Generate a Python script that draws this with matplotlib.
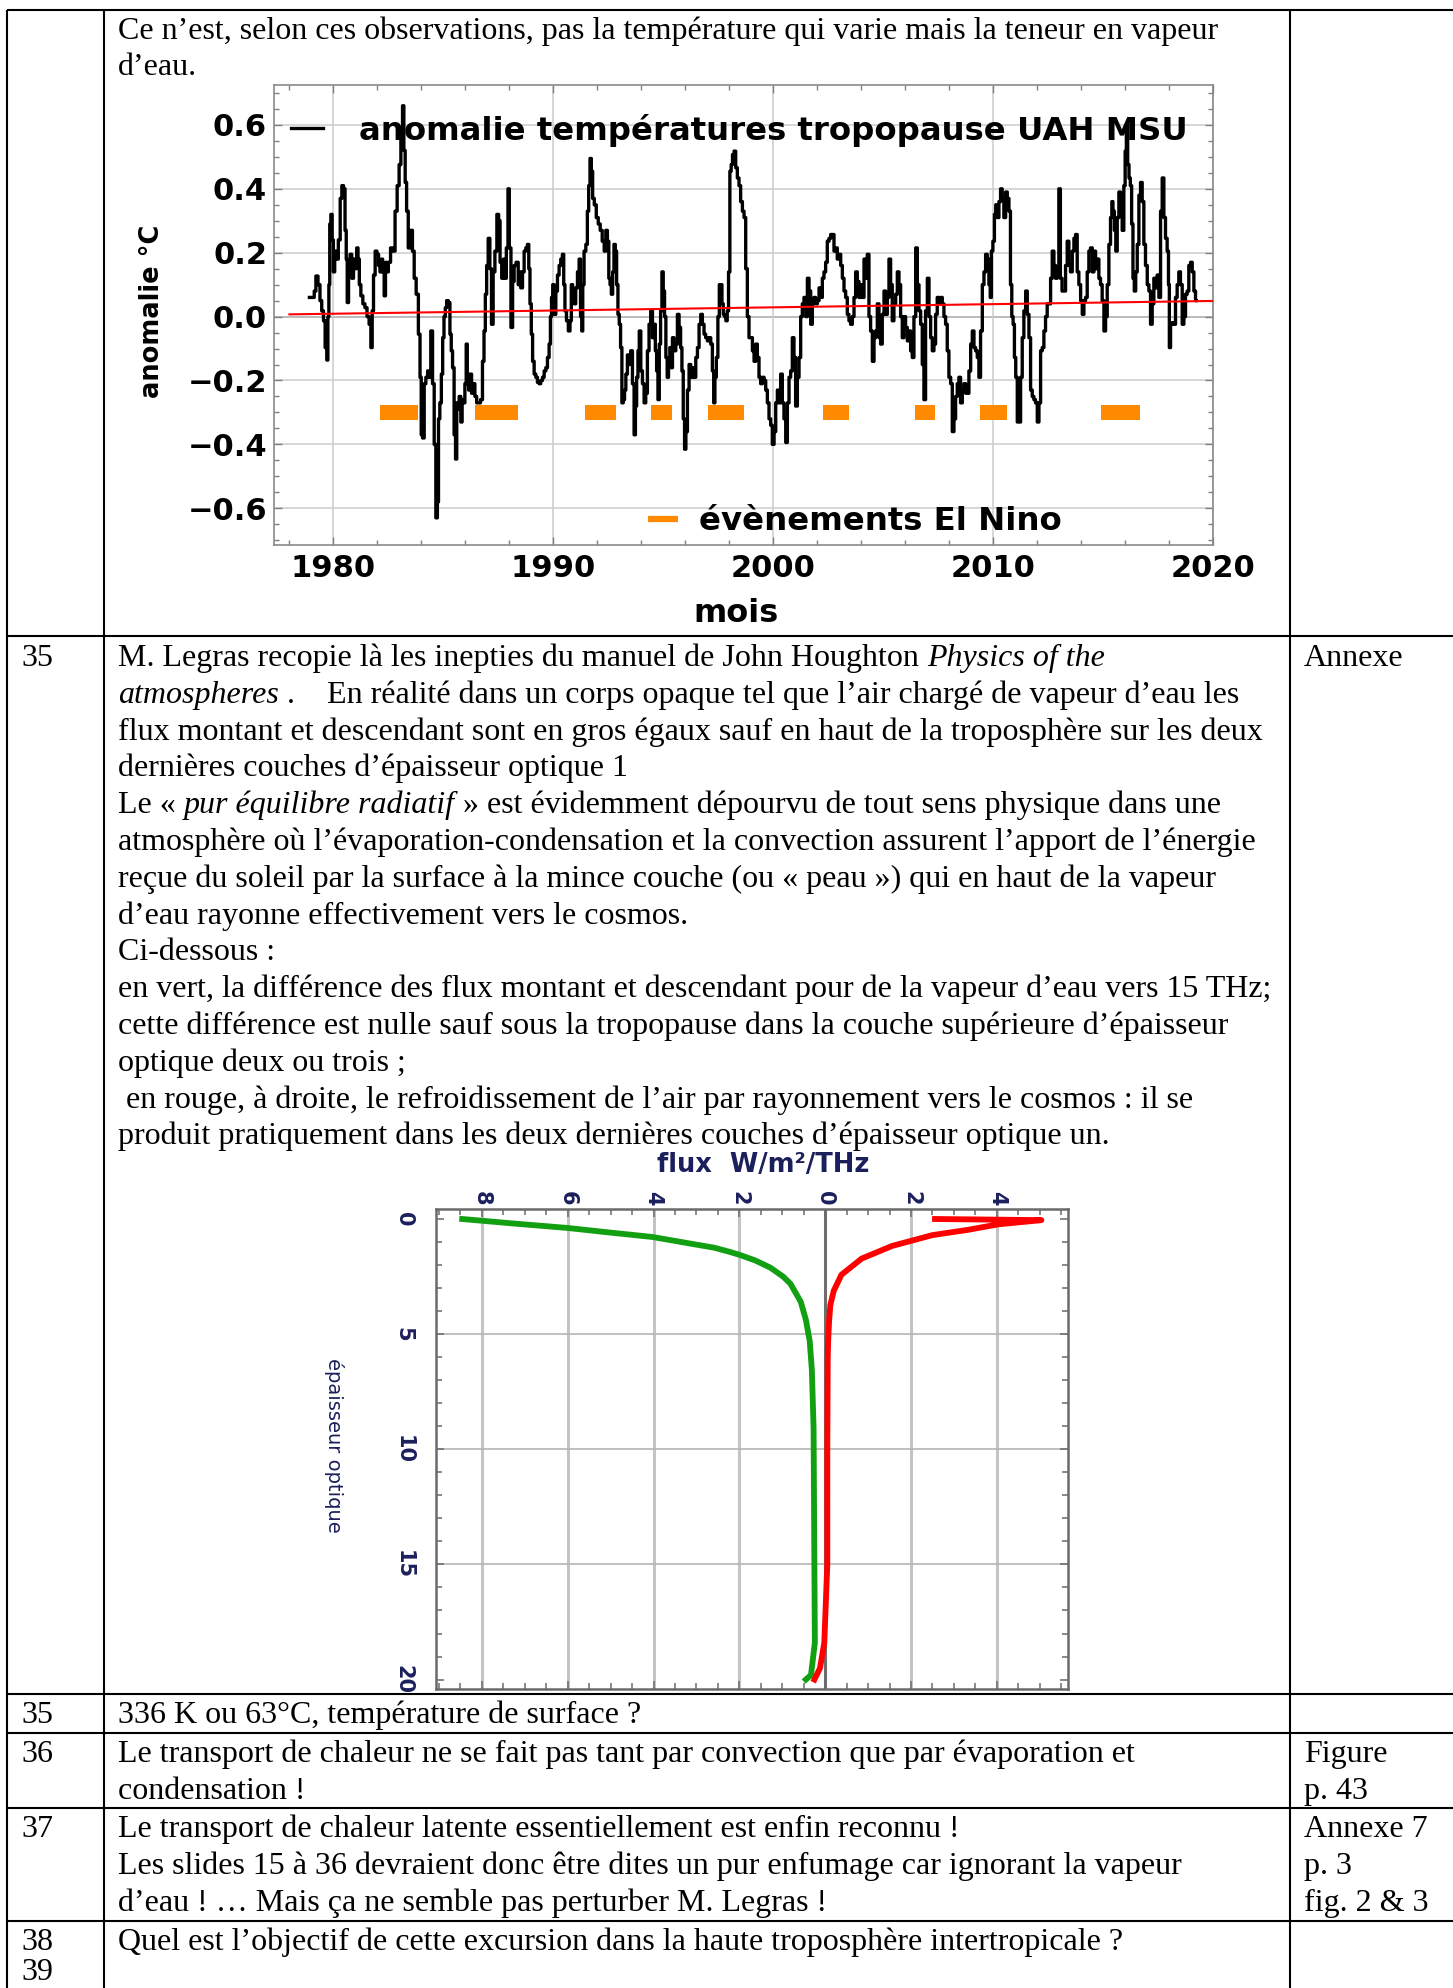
import matplotlib
matplotlib.use("Agg")
import numpy as np
import matplotlib.pyplot as plt

W, H = 1453, 1988

# ---------------- graphe 1 : anomalie tropopause UAH MSU
annees_a = [1978.91, 1979.09, 1979.17, 1979.24, 1979.36, 1979.42, 1979.52, 1979.58, 1979.67, 1979.73,
            1979.77, 1979.82, 1979.85, 1979.92, 1979.97, 1980.03, 1980.09, 1980.18, 1980.27, 1980.35,
            1980.42, 1980.50, 1980.56, 1980.61, 1980.65, 1980.73, 1980.79, 1980.88, 1980.95, 1981.03,
            1981.09, 1981.15, 1981.21, 1981.29, 1981.39, 1981.48, 1981.58, 1981.67, 1981.74, 1981.79,
            1981.86, 1981.94, 1982.02, 1982.09, 1982.15, 1982.21, 1982.27, 1982.35, 1982.39, 1982.45,
            1982.55, 1982.65, 1982.76, 1982.85, 1982.95, 1983.03, 1983.11, 1983.18, 1983.23, 1983.30,
            1983.36, 1983.45, 1983.55, 1983.64, 1983.71, 1983.82, 1983.91, 1983.97, 1984.02, 1984.09,
            1984.17, 1984.24, 1984.33, 1984.39, 1984.47, 1984.55, 1984.62, 1984.70, 1984.76, 1984.80,
            1984.88, 1984.94, 1985.00, 1985.06, 1985.12, 1985.18, 1985.27, 1985.33, 1985.39, 1985.45,
            1985.53, 1985.58, 1985.64, 1985.68, 1985.76, 1985.83, 1985.88, 1985.94, 1986.02, 1986.06,
            1986.12, 1986.18, 1986.24, 1986.33, 1986.39, 1986.48, 1986.55, 1986.64, 1986.74, 1986.82,
            1986.88, 1986.94, 1987.00, 1987.08, 1987.15, 1987.23, 1987.30, 1987.39, 1987.48, 1987.55,
            1987.61, 1987.70, 1987.76, 1987.82, 1987.91, 1987.97, 1988.03, 1988.12, 1988.18, 1988.26,
            1988.36, 1988.45]
anom_a = [0.06, 0.06, 0.08, 0.127, 0.10, 0.05, 0.018, -0.013, -0.097, -0.136,
          0.0, 0.10, 0.29, 0.32, 0.24, 0.14, 0.205, 0.18, 0.24, 0.37,
          0.41, 0.40, 0.27, 0.18, 0.044, 0.14, 0.195, 0.12, 0.18, 0.15,
          0.215, 0.18, 0.10, 0.065, 0.04, 0.028, 0.0, -0.024, -0.097, 0.018,
          0.13, 0.205, 0.195, 0.16, 0.14, 0.18, 0.14, 0.065, 0.17, 0.14,
          0.17, 0.215, 0.205, 0.33, 0.41, 0.476, 0.57, 0.66, 0.52, 0.42,
          0.33, 0.215, 0.27, 0.205, 0.12, 0.07, -0.055, -0.19, -0.37, -0.38,
          -0.21, -0.19, -0.17, -0.19, -0.045, -0.21, -0.40, -0.63, -0.58, -0.32,
          -0.27, -0.18, -0.066, 0.0, 0.028, 0.05, 0.044, -0.055, -0.107, -0.16,
          -0.37, -0.446, -0.27, -0.29, -0.25, -0.33, -0.26, -0.27, -0.21, -0.086,
          -0.21, -0.23, -0.18, -0.24, -0.21, -0.25, -0.27, -0.27, -0.26, -0.14,
          -0.045, 0.07, 0.16, 0.245, 0.15, -0.024, 0.14, 0.205, 0.32, 0.30,
          0.17, 0.12, 0.18, 0.12, 0.215, 0.40, 0.215, -0.034, 0.11, 0.16,
          0.17, 0.10]

annees_b = [1988.48, 1988.56, 1988.64, 1988.71, 1988.79, 1988.86, 1988.91, 1988.97, 1989.03, 1989.09,
            1989.17, 1989.24, 1989.32, 1989.39, 1989.47, 1989.55, 1989.62, 1989.70, 1989.77, 1989.85,
            1989.89, 1989.95, 1990.00, 1990.08, 1990.15, 1990.23, 1990.30, 1990.38, 1990.45, 1990.50,
            1990.56, 1990.64, 1990.73, 1990.79, 1990.85, 1990.91, 1990.98, 1991.06, 1991.14, 1991.21,
            1991.27, 1991.32, 1991.36, 1991.44, 1991.52, 1991.58, 1991.64, 1991.70, 1991.76, 1991.82,
            1991.91, 1992.00, 1992.09, 1992.18, 1992.27, 1992.36, 1992.42, 1992.50, 1992.55, 1992.61,
            1992.67, 1992.73, 1992.79, 1992.85, 1992.91, 1992.97, 1993.03, 1993.09, 1993.15, 1993.21,
            1993.27, 1993.33, 1993.41, 1993.48, 1993.56, 1993.64, 1993.71, 1993.76, 1993.82, 1993.88,
            1993.94, 1994.02, 1994.09, 1994.17, 1994.24, 1994.32, 1994.39, 1994.47, 1994.55, 1994.61,
            1994.67, 1994.73, 1994.79, 1994.85, 1994.91, 1994.97, 1995.03, 1995.09, 1995.15, 1995.21,
            1995.27, 1995.33, 1995.39, 1995.45, 1995.53, 1995.61, 1995.68, 1995.76, 1995.82, 1995.88,
            1995.94, 1996.00, 1996.06, 1996.14, 1996.21, 1996.29, 1996.36, 1996.44, 1996.52, 1996.59,
            1996.67, 1996.74, 1996.82, 1996.89, 1996.97, 1997.05, 1997.12, 1997.20, 1997.27, 1997.32,
            1997.38, 1997.45, 1997.52, 1997.58, 1997.64, 1997.70, 1997.76, 1997.82, 1997.88, 1997.94,
            1998.00, 1998.06, 1998.12, 1998.18, 1998.26, 1998.33, 1998.41, 1998.48, 1998.56, 1998.64,
            1998.71, 1998.79, 1998.86, 1998.94]
anom_b = [0.14, 0.09, 0.14, 0.205, 0.215, 0.226, 0.15, 0.04, -0.055, -0.14,
          -0.18, -0.19, -0.206, -0.21, -0.20, -0.19, -0.17, -0.16, -0.128, -0.086,
          0.0, 0.06, 0.10, 0.007, 0.08, 0.13, 0.16, 0.18, 0.195, 0.10,
          0.018, -0.013, -0.045, -0.013, 0.10, 0.08, 0.04, 0.09, 0.14, 0.18,
          0.0, -0.045, 0.10, 0.205, 0.226, 0.33, 0.41, 0.495, 0.455, 0.37,
          0.35, 0.31, 0.29, 0.27, 0.236, 0.205, 0.27, 0.236, 0.12, 0.10,
          0.07, 0.14, 0.226, 0.205, 0.10, 0.007, -0.024, -0.097, -0.27, -0.26,
          -0.23, -0.18, -0.12, -0.15, -0.107, -0.21, -0.37, -0.28, -0.19, -0.107,
          -0.045, -0.17, -0.21, -0.27, -0.24, -0.107, -0.024, 0.018, -0.066, -0.024,
          -0.107, -0.17, -0.26, -0.086, 0.018, 0.14, 0.08, 0.0, -0.128, -0.19,
          -0.14, -0.097, -0.16, -0.066, -0.107, -0.086, 0.007, -0.034, -0.097, -0.17,
          -0.32, -0.415, -0.36, -0.23, -0.15, -0.19, -0.16, -0.19, -0.128, -0.097,
          -0.024, 0.007, -0.024, -0.055, -0.066, -0.076, -0.066, -0.086, -0.17, -0.27,
          -0.19, -0.128, 0.0, 0.10, 0.10, 0.04, 0.007, 0.0, -0.013, 0.018,
          0.14, 0.455, 0.476, 0.507, 0.518, 0.466, 0.434, 0.41, 0.36, 0.33,
          0.31, 0.15, 0.0, -0.066]

annees_c = [1999.02, 1999.09, 1999.17, 1999.24, 1999.32, 1999.39, 1999.47, 1999.55, 1999.62, 1999.70,
            1999.77, 1999.85, 1999.92, 2000.00, 2000.08, 2000.15, 2000.23, 2000.30, 2000.38, 2000.45,
            2000.53, 2000.61, 2000.68, 2000.76, 2000.83, 2000.91, 2000.98, 2001.06, 2001.14, 2001.21,
            2001.29, 2001.36, 2001.44, 2001.52, 2001.59, 2001.67, 2001.74, 2001.82, 2001.89, 2001.97,
            2002.05, 2002.12, 2002.20, 2002.27, 2002.35, 2002.42, 2002.50, 2002.58, 2002.65, 2002.73,
            2002.80, 2002.88, 2002.95, 2003.03, 2003.11, 2003.18, 2003.26, 2003.33, 2003.41, 2003.48,
            2003.56, 2003.64, 2003.71, 2003.79, 2003.86, 2003.94, 2004.02, 2004.09, 2004.17, 2004.24,
            2004.32, 2004.39, 2004.47, 2004.55, 2004.62, 2004.70, 2004.77, 2004.85, 2004.92, 2005.00,
            2005.08, 2005.15, 2005.23, 2005.30, 2005.38, 2005.45, 2005.53, 2005.61, 2005.68, 2005.76,
            2005.83, 2005.91, 2005.98, 2006.06, 2006.14, 2006.21, 2006.29, 2006.36, 2006.44, 2006.52,
            2006.59, 2006.67, 2006.74, 2006.82, 2006.89, 2006.97, 2007.05, 2007.12, 2007.20, 2007.27,
            2007.35, 2007.42, 2007.50, 2007.58, 2007.65, 2007.73, 2007.80, 2007.88, 2007.95, 2008.03,
            2008.11, 2008.18, 2008.26, 2008.33, 2008.41, 2008.48, 2008.56, 2008.64, 2008.71, 2008.79,
            2008.86, 2008.94, 2009.02, 2009.09, 2009.17, 2009.24, 2009.32, 2009.39]
anom_c = [-0.066, -0.107, -0.14, -0.086, -0.128, -0.19, -0.21, -0.19, -0.20, -0.23,
          -0.27, -0.32, -0.34, -0.40, -0.36, -0.27, -0.23, -0.27, -0.18, -0.27,
          -0.32, -0.394, -0.27, -0.19, -0.17, -0.066, -0.128, -0.28, -0.19, -0.128,
          0.0, 0.04, 0.06, 0.0, 0.12, 0.08, -0.024, 0.04, 0.06, 0.04,
          0.05, 0.09, 0.06, 0.12, 0.14, 0.17, 0.236, 0.245, 0.257, 0.257,
          0.205, 0.215, 0.18, 0.195, 0.16, 0.12, 0.08, 0.06, 0.007, -0.013,
          -0.024, 0.0, 0.06, 0.14, 0.11, 0.06, 0.10, 0.06, 0.18, 0.12,
          0.195, 0.0, -0.045, -0.14, -0.066, -0.045, 0.04, -0.066, -0.086, 0.007,
          0.08, 0.007, 0.06, 0.18, 0.10, -0.013, 0.04, 0.07, 0.14, 0.10,
          0.0, -0.066, 0.0, -0.034, -0.076, -0.045, -0.107, -0.128, 0.0, 0.215,
          0.10, 0.018, -0.024, -0.15, -0.26, 0.018, 0.12, 0.0, -0.066, -0.107,
          -0.086, 0.007, 0.06, 0.04, 0.06, 0.04, 0.0, -0.024, -0.107, -0.19,
          -0.21, -0.36, -0.32, -0.25, -0.21, -0.19, -0.27, -0.23, -0.21, -0.24,
          -0.24, -0.17, -0.086, -0.045, -0.097, -0.107, -0.128, -0.19]

annees_d = [2009.47, 2009.55, 2009.62, 2009.70, 2009.77, 2009.85, 2009.89, 2009.95, 2010.03, 2010.09,
            2010.15, 2010.23, 2010.30, 2010.38, 2010.45, 2010.53, 2010.61, 2010.68, 2010.76, 2010.82,
            2010.88, 2010.94, 2011.00, 2011.06, 2011.14, 2011.21, 2011.29, 2011.36, 2011.44, 2011.52,
            2011.59, 2011.67, 2011.74, 2011.82, 2011.89, 2011.97, 2012.05, 2012.12, 2012.20, 2012.27,
            2012.35, 2012.42, 2012.50, 2012.58, 2012.65, 2012.73, 2012.80, 2012.88, 2012.95, 2013.03,
            2013.09, 2013.18, 2013.26, 2013.33, 2013.41, 2013.48, 2013.56, 2013.64, 2013.71, 2013.79,
            2013.86, 2013.94, 2014.02, 2014.09, 2014.17, 2014.24, 2014.32, 2014.39, 2014.47, 2014.55,
            2014.62, 2014.70, 2014.77, 2014.85, 2014.92, 2015.00, 2015.08, 2015.15, 2015.23, 2015.30,
            2015.38, 2015.42, 2015.48, 2015.55, 2015.61, 2015.68, 2015.76, 2015.83, 2015.91, 2015.98,
            2016.03, 2016.09, 2016.15, 2016.21, 2016.27, 2016.33, 2016.39, 2016.45, 2016.52, 2016.59,
            2016.67, 2016.74, 2016.82, 2016.89, 2016.97, 2017.05, 2017.12, 2017.20, 2017.27, 2017.35,
            2017.42, 2017.50, 2017.58, 2017.65, 2017.73, 2017.80, 2017.88, 2017.95, 2018.00, 2018.03,
            2018.11, 2018.18, 2018.26, 2018.33, 2018.41, 2018.48, 2018.56, 2018.64, 2018.71, 2018.79,
            2018.86, 2018.94, 2019.02, 2019.09, 2019.17, 2019.24]
anom_d = [-0.045, 0.10, 0.14, 0.195, 0.18, 0.10, 0.06, 0.205, 0.236, 0.32,
          0.35, 0.31, 0.36, 0.40, 0.37, 0.31, 0.39, 0.37, 0.33, 0.10,
          0.0, -0.024, -0.128, -0.19, -0.33, -0.33, -0.19, -0.066, 0.018, 0.08,
          0.007, -0.066, -0.23, -0.25, -0.26, -0.27, -0.33, -0.27, -0.107, -0.097,
          -0.045, 0.0, 0.04, 0.04, 0.12, 0.205, 0.16, 0.12, 0.14, 0.40,
          0.12, 0.08, 0.08, 0.16, 0.236, 0.16, 0.14, 0.205, 0.245, 0.257,
          0.14, 0.10, 0.05, 0.007, 0.05, 0.06, 0.14, 0.205, 0.215, 0.14,
          0.205, 0.15, 0.18, 0.12, 0.10, 0.05, -0.045, 0.0, 0.10, 0.226,
          0.31, 0.36, 0.33, 0.27, 0.205, 0.31, 0.39, 0.37, 0.27, 0.41,
          0.518, 0.60, 0.476, 0.434, 0.41, 0.29, 0.12, 0.08, 0.14, 0.226,
          0.38, 0.42, 0.36, 0.226, 0.16, 0.10, 0.08, -0.024, 0.04, 0.12,
          0.09, 0.13, 0.06, 0.33, 0.434, 0.31, 0.245, 0.205, 0.10, -0.097,
          -0.024, -0.019, -0.024, 0.06, 0.10, 0.14, 0.10, -0.024, 0.0, 0.07,
          0.08, 0.16, 0.17, 0.14, 0.08, 0.05]

tendance_annees = [1978.0, 2020.0]
tendance_vals = [0.007, 0.049]

nino_debut = [1982.1, 1986.45, 1991.45, 1994.45, 1997.05, 2002.25, 2006.45, 2009.4, 2014.9]
nino_fin = [1983.85, 1988.4, 1992.85, 1995.4, 1998.65, 2003.45, 2007.35, 2010.65, 2016.7]
nino_niveau = -0.3

ticks_x1 = [1980, 1990, 2000, 2010, 2020]
ticks_y1 = [-0.6, -0.4, -0.2, 0.0, 0.2, 0.4, 0.6]

# ---------------- graphe 2 : flux vs épaisseur optique
epaisseur_vert = [0.0, 0.19, 0.39, 0.58, 0.78, 1.25, 1.43, 1.56, 1.80, 2.11, 2.50, 2.81, 3.20, 3.59,
                  4.37, 5.30, 6.55, 9.05, 15.3, 18.4, 19.8, 20.0]
flux_vert = [-8.46, -7.30, -6.00, -5.06, -4.03, -2.58, -2.22, -1.99, -1.63, -1.28, -0.98, -0.81, -0.69,
             -0.57, -0.45, -0.36, -0.31, -0.27, -0.25, -0.24, -0.33, -0.45]
epaisseur_rouge = [20.0, 19.5, 18.4, 15.0, 10.0, 6.0, 5.3, 4.5, 3.74, 3.12, 2.42, 1.72, 1.17, 0.70,
                   0.47, 0.23, 0.05, 0.0]
flux_rouge = [-0.25, -0.12, -0.02, 0.05, 0.05, 0.06, 0.07, 0.09, 0.12, 0.2, 0.38, 0.85, 1.56, 2.5,
              3.33, 4.04, 5.04, 2.56]
ticks_x2 = [-8, -6, -4, -2, 0, 2, 4]
ticks_y2 = [0, 5, 10, 15, 20]

# ---------------- texte du tableau
SERIF = "Liberation Serif"
TAILLE = 23
INTER = 36.8
N, I = "normal", "italic"

texte_r1 = [[("Ce n’est, selon ces observations, pas la température qui varie mais la teneur en vapeur", N)],
            [("d’eau.", N)]]
texte_r2 = [
    [("M. Legras recopie là les inepties du manuel de John Houghton ", N), ("Physics of the", I)],
    [("atmospheres", I), (" .    En réalité dans un corps opaque tel que l’air chargé de vapeur d’eau les", N)],
    [("flux montant et descendant sont en gros égaux sauf en haut de la troposphère sur les deux", N)],
    [("dernières couches d’épaisseur optique 1", N)],
    [("Le « ", N), ("pur équilibre radiatif", I), (" » est évidemment dépourvu de tout sens physique dans une", N)],
    [("atmosphère où l’évaporation-condensation et la convection assurent l’apport de l’énergie", N)],
    [("reçue du soleil par la surface à la mince couche (ou « peau ») qui en haut de la vapeur", N)],
    [("d’eau rayonne effectivement vers le cosmos.", N)],
    [("Ci-dessous :", N)],
    [("en vert, la différence des flux montant et descendant pour de la vapeur d’eau vers 15 THz;", N)],
    [("cette différence est nulle sauf sous la tropopause dans la couche supérieure d’épaisseur", N)],
    [("optique deux ou trois ;", N)],
    [(" en rouge, à droite, le refroidissement de l’air par rayonnement vers le cosmos : il se", N)],
    [("produit pratiquement dans les deux dernières couches d’épaisseur optique un.", N)],
]
texte_r3 = [[("336 K ou 63°C, température de surface ?", N)]]
texte_r4 = [[("Le transport de chaleur ne se fait pas tant par convection que par évaporation et", N)],
            [("condensation !", N)]]
texte_r5 = [[("Le transport de chaleur latente essentiellement est enfin reconnu !", N)],
            [("Les slides 15 à 36 devraient donc être dites un pur enfumage car ignorant la vapeur", N)],
            [("d’eau ! … Mais ça ne semble pas perturber M. Legras !", N)]]
texte_r6 = [[("Quel est l’objectif de cette excursion dans la haute troposphère intertropicale ?", N)]]

numeros = [("35", 666), ("35", 1723), ("36", 1762), ("37", 1837), ("38", 1950), ("39", 1980)]
annexes = [("Annexe", 666), ("Figure", 1762), ("p. 43", 1799), ("Annexe 7", 1837),
           ("p. 3", 1874), ("fig. 2 & 3", 1911)]

lignes_h = [10, 636, 1694, 1733, 1808, 1921]
lignes_v = [7, 104, 1290]

# ---------------- figure
fig = plt.figure(figsize=(W / 100, H / 100), dpi=100)
bg = fig.add_axes([0, 0, 1, 1], zorder=0)
bg.set_xlim(0, W)
bg.set_ylim(H, 0)
bg.axis("off")
px = bg.transData


def cadre(l, t, r, b):
    return [l / W, 1 - b / H, (r - l) / W, (b - t) / H]


for y in lignes_h:
    bg.plot([7, W], [y, y], color="black", lw=1.5, solid_capstyle="butt")
for x in lignes_v:
    bg.plot([x, x], [10, H], color="black", lw=1.5, solid_capstyle="butt")

rend = fig.canvas.get_renderer()


def largeur(s, style):
    t = bg.text(0, 0, s, family=SERIF, size=TAILLE, style=style)
    w = t.get_window_extent(rend).width
    t.remove()
    return w


def avance(s, style):
    # largeur d'avance réelle, espaces de bord compris
    return largeur("|" + s + "|", style) - largeur("||", style)


def paragraphe(lignes, x0, y0):
    for i, morceaux in enumerate(lignes):
        x = x0
        for s, style in morceaux:
            bg.text(x, y0 + i * INTER, s, family=SERIF, size=TAILLE, style=style,
                    ha="left", va="baseline")
            x += avance(s, style)


paragraphe(texte_r1, 118, 38.5)
paragraphe(texte_r2, 118, 666)
paragraphe(texte_r3, 118, 1723)
paragraphe(texte_r4, 118, 1762)
paragraphe(texte_r5, 118, 1837)
paragraphe(texte_r6, 118, 1950)
for s, y in numeros:
    bg.text(21, y, s, family=SERIF, size=TAILLE, va="baseline")
for s, y in annexes:
    bg.text(1304, y, s, family=SERIF, size=TAILLE, va="baseline")

# ---------------- graphe 1
SANS = "DejaVu Sans"
ax1 = fig.add_axes(cadre(274, 85, 1213, 545), zorder=1)
ax1.grid(True, color="#cccccc", lw=1.1)
ax1.axhline(0, color="#7f7f7f", lw=1.3, zorder=1)
ax1.barh(nino_niveau, np.array(nino_fin) - np.array(nino_debut), left=nino_debut,
         height=0.047, color="#ff8a00", zorder=2)
ax1.plot(tendance_annees, tendance_vals, color="red", lw=1.5, zorder=4)
for xs, ys in [(annees_a, anom_a), (annees_b, anom_b), (annees_c, anom_c), (annees_d, anom_d)]:
    assert len(xs) == len(ys)
annees = annees_a + annees_b + annees_c + annees_d
anom = anom_a + anom_b + anom_c + anom_d
ax1.plot(annees, anom, color="black", lw=2.4, drawstyle="steps-mid", zorder=3)
ax1.set_xlim(1977.3, 2020)
ax1.set_ylim(-0.715, 0.725)
ax1.set_xticks(ticks_x1, [str(v) for v in ticks_x1], fontsize=22, fontweight="bold", family=SANS)
ax1.set_yticks(ticks_y1, [f"{v:.1f}".replace("-", "\u2212") for v in ticks_y1],
               fontsize=22, fontweight="bold", family=SANS)
ax1.set_xticks(np.arange(1978, 2021, 2), minor=True)
ax1.set_yticks(np.arange(-0.7, 0.71, 0.05), minor=True)
ax1.tick_params(which="both", direction="in", top=True, right=True, color="#808080", width=1)
ax1.tick_params(which="major", length=6)
ax1.tick_params(which="minor", length=3.5)
ax1.tick_params(axis="x", pad=6.5)
ax1.tick_params(axis="y", pad=5)
for sp in ax1.spines.values():
    sp.set_color("#8a8a8a")
    sp.set_linewidth(1.2)

# légendes internes
ax1.plot([291, 323], [128, 128], color="black", lw=2.4, transform=px, clip_on=False, zorder=5)
ax1.text(359, 140, "anomalie températures tropopause UAH MSU", transform=px, family=SANS,
         fontsize=23.3, fontweight="bold", va="baseline", zorder=5)
ax1.plot([648, 678], [519, 519], color="#ff8a00", lw=4.5, transform=px, clip_on=False,
         solid_capstyle="butt", zorder=5)
ax1.text(699, 530, "évènements El Nino", transform=px, family=SANS,
         fontsize=23.3, fontweight="bold", va="baseline", zorder=5)
bg.text(152, 311, "anomalie °C", family=SANS, fontsize=18.5, fontweight="bold",
        rotation=90, ha="center", va="center")
bg.text(736, 622, "mois", family=SANS, fontsize=23, fontweight="bold", ha="center", va="baseline")

# ---------------- graphe 2
BLEU = "#1b1f5c"
ax2 = fig.add_axes(cadre(436, 1209, 1068, 1689), zorder=1)
for v in ticks_x2:
    if v != 0:
        ax2.axvline(v, color="#c4c4c4", lw=2.2, zorder=0)
for v in ticks_y2[1:-1]:
    ax2.axhline(v, color="#b4b4b4", lw=1.2, zorder=0)
ax2.axvline(0, color="#6e6e6e", lw=2.2, zorder=1)
ax2.plot(flux_vert, epaisseur_vert, color="#12a012", lw=4.2, zorder=3)
ax2.plot(flux_rouge, epaisseur_rouge, color="#ff0000", lw=4.2, zorder=4)
ax2.set_xlim(-9.07, 5.66)
ax2.set_ylim(20.41, -0.434)
ax2.xaxis.tick_top()
ax2.set_xticks(ticks_x2, [f"{abs(v):g}" for v in ticks_x2], rotation=-90, fontsize=15,
               fontweight="bold", color=BLEU, family=SANS)
ax2.set_yticks(ticks_y2, [str(v) for v in ticks_y2], rotation=-90, va="center", fontsize=15,
               fontweight="bold", color=BLEU, family=SANS)
ax2.set_xticks(np.arange(-9, 5.6, 0.5), minor=True)
ax2.set_yticks(np.arange(0, 21, 1), minor=True)
ax2.tick_params(which="both", direction="in", top=True, bottom=True, left=True, right=True,
                labeltop=True, labelbottom=False, color="#6a6a6a", width=1.1)
ax2.tick_params(which="major", length=6)
ax2.tick_params(which="minor", length=4.5)
ax2.tick_params(axis="x", pad=2.5)
ax2.tick_params(axis="y", pad=16)
for sp in ax2.spines.values():
    sp.set_color("#6a6a6a")
    sp.set_linewidth(1.8)
bg.text(334, 1445, "épaisseur optique", family=SANS, fontsize=14, color=BLEU,
        rotation=-90, ha="center", va="center")
bg.text(763, 1172, "flux  W/m²/THz", family=SANS, fontsize=18.5, fontweight="bold",
        color=BLEU, ha="center", va="baseline")

fig.savefig("out.png", dpi=100)
